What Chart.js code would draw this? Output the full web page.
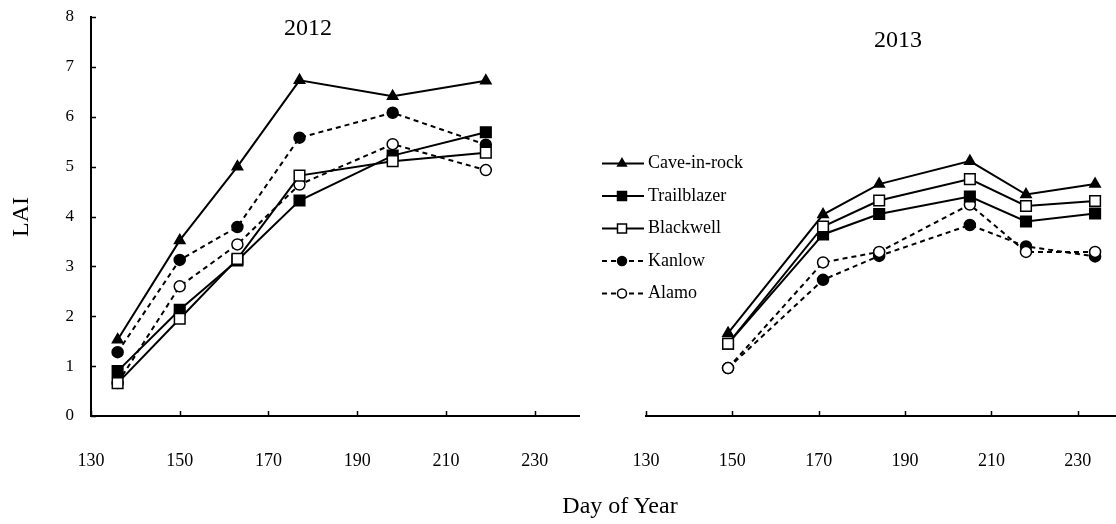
<!DOCTYPE html>
<html>
<head>
<meta charset="utf-8">
<script src="https://cdn.jsdelivr.net/npm/chart.js@4/dist/chart.umd.min.js"></script>
<style>
  html, body { margin: 0; padding: 0; background: #fff; overflow: hidden; }
  body { width: 1116px; height: 524px; position: relative; font-family: "Liberation Serif", "Times New Roman", serif; color: #000; }
  canvas { position: absolute; top: 0; }
  #grafico2012 { left: 0; }
  #grafico2013 { left: 590px; }
  .texto { position: absolute; transform: translate(-50%, -50%); font-size: 24px; line-height: 1; white-space: nowrap; }
</style>
</head>
<body>
<canvas id="grafico2012" width="600" height="524"></canvas>
<canvas id="grafico2013" width="531" height="524"></canvas>
<div class="texto" style="left:308px;top:27px">2012</div>
<div class="texto" style="left:898px;top:39px">2013</div>
<div class="texto" style="left:20px;top:217px;transform:translate(-50%,-50%) rotate(-90deg)">LAI</div>
<div class="texto" style="left:620px;top:505px">Day of Year</div>

<script>
// dados
const nomes = ["Cave-in-rock", "Trailblazer", "Blackwell", "Kanlow", "Alamo"];

const dias2012 = [136, 150, 163, 177, 198, 219];
const cave2012 = [1.53, 3.52, 5.00, 6.73, 6.41, 6.72];
const trail2012 = [0.90, 2.13, 3.12, 4.32, 5.22, 5.69];
const black2012 = [0.66, 1.95, 3.15, 4.82, 5.11, 5.28];
const kanlow2012 = [1.28, 3.13, 3.79, 5.58, 6.08, 5.44];
const alamo2012 = [0.66, 2.60, 3.44, 4.64, 5.45, 4.93];

const dias2013 = [149, 171, 184, 205, 218, 234];
const cave2013 = [1.66, 4.04, 4.65, 5.11, 4.44, 4.65];
const trail2013 = [1.45, 3.64, 4.05, 4.40, 3.90, 4.06];
const black2013 = [1.45, 3.80, 4.32, 4.75, 4.21, 4.31];
const kanlow2013 = [0.96, 2.73, 3.21, 3.83, 3.40, 3.20];
const alamo2013 = [0.96, 3.08, 3.29, 4.24, 3.29, 3.29];

const xTicks = [130, 150, 170, 190, 210, 230];
const yTicks = [0, 1, 2, 3, 4, 5, 6, 7, 8];

const fonte = "'Liberation Serif', 'Times New Roman', serif";

const estilos = [
    { pointStyle: "triangle", pointRadius: 6, pointBackgroundColor: "#000", borderDash: [], order: 0 },
    { pointStyle: "rect", pointRadius: 7.5, pointBackgroundColor: "#000", borderDash: [], order: 2 },
    { pointStyle: "rect", pointRadius: 7.5, pointBackgroundColor: "#fff", borderDash: [], order: 1 },
    { pointStyle: "circle", pointRadius: 5.5, pointBackgroundColor: "#000", borderDash: [5, 4], order: 4 },
    { pointStyle: "circle", pointRadius: 5.5, pointBackgroundColor: "#fff", borderDash: [5, 4], order: 3 }
];

function montarDatasets(dias, series) {
    return series.map((valores, i) => ({
        label: nomes[i],
        data: valores.map((v, k) => ({ x: dias[k], y: v })),
        borderColor: "#000",
        borderWidth: 2,
        pointBorderColor: "#000",
        pointBorderWidth: 1.5,
        tension: 0,
        fill: false,
        ...estilos[i]
    }));
}

// ticks pequenos apontando para dentro
const ticksParaDentro = {
    id: "ticksParaDentro",
    afterDraw(chart) {
        const ctx = chart.ctx;
        const area = chart.chartArea;
        ctx.save();
        ctx.strokeStyle = "#000";
        ctx.lineWidth = 1.5;
        ctx.beginPath();
        const x = chart.scales.x;
        x.ticks.forEach(t => {
            const px = Math.round(x.getPixelForValue(t.value)) + 0.5;
            ctx.moveTo(px, area.bottom);
            ctx.lineTo(px, area.bottom - 5);
        });
        const y = chart.scales.y;
        if (y.options.display) {
            y.ticks.forEach(t => {
                const py = Math.round(y.getPixelForValue(t.value)) + 0.5;
                ctx.moveTo(area.left, py);
                ctx.lineTo(area.left + 5, py);
            });
        }
        ctx.stroke();
        ctx.restore();
    }
};

function desenharMarcador(ctx, estilo, x, y, r) {
    ctx.setLineDash([]);
    ctx.lineWidth = 1.5;
    ctx.fillStyle = estilo.pointBackgroundColor;
    ctx.strokeStyle = "#000";
    ctx.beginPath();
    if (estilo.pointStyle === "triangle") {
        ctx.moveTo(x, y - r);
        ctx.lineTo(x + r * 0.866, y + r * 0.5);
        ctx.lineTo(x - r * 0.866, y + r * 0.5);
        ctx.closePath();
    } else if (estilo.pointStyle === "rect") {
        ctx.rect(x - r, y - r, 2 * r, 2 * r);
    } else {
        ctx.arc(x, y, r, 0, Math.PI * 2);
    }
    ctx.fill();
    ctx.stroke();
}

const legenda = {
    id: "legenda",
    afterDraw(chart) {
        const ctx = chart.ctx;
        ctx.save();
        nomes.forEach((nome, i) => {
            const y = 163.5 + i * 32.5;
            const estilo = estilos[i];
            ctx.strokeStyle = "#000";
            ctx.lineWidth = 2;
            ctx.setLineDash(estilo.borderDash);
            ctx.beginPath();
            ctx.moveTo(12, y);
            ctx.lineTo(54, y);
            ctx.stroke();
            const r = estilo.pointStyle === "triangle" ? 5 : 4.5;
            desenharMarcador(ctx, estilo, 32, y, r);
            ctx.fillStyle = "#000";
            ctx.font = "18px " + fonte;
            ctx.textBaseline = "middle";
            ctx.textAlign = "left";
            ctx.fillText(nome, 58, y);
        });
        ctx.restore();
    }
};

function criarGrafico(id, dias, series, padLeft, padRight, mostrarY, plugins) {
    return new Chart(document.getElementById(id), {
        type: "line",
        data: { datasets: montarDatasets(dias, series) },
        options: {
            responsive: false,
            animation: false,
            layout: {
                autoPadding: false,
                padding: { left: padLeft, top: 17, right: padRight, bottom: 0 }
            },
            plugins: {
                legend: { display: false },
                tooltip: { enabled: false },
                title: { display: false }
            },
            scales: {
                x: {
                    type: "linear",
                    min: 130,
                    max: 240,
                    grid: { display: false, drawTicks: false },
                    border: { display: true, color: "#000", width: 2 },
                    ticks: { color: "#000", font: { family: fonte, size: 18 }, padding: 34, maxRotation: 0 },
                    afterBuildTicks: s => { s.ticks = xTicks.map(v => ({ value: v })); },
                    afterFit: s => {
                        s.height = 108;
                        s.paddingLeft = 0;
                        s.paddingRight = 0;
                    }
                },
                y: {
                    display: mostrarY,
                    min: 0,
                    max: 8,
                    grid: { display: false, drawTicks: false },
                    border: { display: true, color: "#000", width: 2 },
                    ticks: { color: "#000", font: { family: fonte, size: 17 }, padding: 17 },
                    afterBuildTicks: s => { s.ticks = yTicks.map(v => ({ value: v })); },
                    afterFit: s => {
                        s.width = mostrarY ? 91 : 0;
                        s.paddingTop = 0;
                        s.paddingBottom = 0;
                    }
                }
            }
        },
        plugins: plugins
    });
}

criarGrafico("grafico2012", dias2012,
    [cave2012, trail2012, black2012, kanlow2012, alamo2012], 0, 21, true, [ticksParaDentro]);
criarGrafico("grafico2013", dias2013,
    [cave2013, trail2013, black2013, kanlow2013, alamo2013], 56, 0, false, [ticksParaDentro, legenda]);
</script>
</body>
</html>
